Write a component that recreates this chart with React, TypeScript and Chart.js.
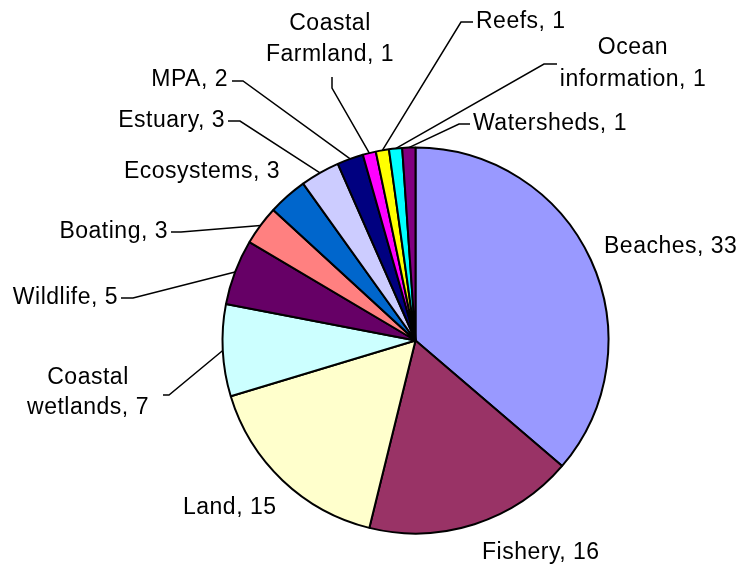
import React, { useEffect, useRef } from "react";
import { Chart, registerables } from "chart.js";

Chart.register(...registerables);

const categories = [
  "Beaches",
  "Fishery",
  "Land",
  "Coastal wetlands",
  "Wildlife",
  "Boating",
  "Ecosystems",
  "Estuary",
  "MPA",
  "Coastal Farmland",
  "Reefs",
  "Ocean information",
  "Watersheds",
];

const counts = [33, 16, 15, 7, 5, 3, 3, 3, 2, 1, 1, 1, 1];

const labelLines = [
  ["Beaches, 33"],
  ["Fishery, 16"],
  ["Land, 15"],
  ["Coastal", "wetlands, 7"],
  ["Wildlife, 5"],
  ["Boating, 3"],
  ["Ecosystems, 3"],
  ["Estuary, 3"],
  ["MPA, 2"],
  ["Coastal", "Farmland, 1"],
  ["Reefs, 1"],
  ["Ocean", "information, 1"],
  ["Watersheds, 1"],
];

const sliceColors = [
  "#9999FF",
  "#993366",
  "#FFFFCC",
  "#CCFFFF",
  "#660066",
  "#FF8080",
  "#0066CC",
  "#CCCCFF",
  "#000080",
  "#FF00FF",
  "#FFFF00",
  "#00FFFF",
  "#800080",
];

// Label layout: offsets from the pie centre (px, for a radius of 193)
type Layout = {
  align: "left" | "right" | "center";
  ax: number;
  ay: number;
  lh?: number;
  leader?: [number, number, number, number];
};

const labelLayout: Layout[] = [
  { align: "left", ax: 188.5, ay: -93.5 },
  { align: "left", ax: 66.5, ay: 212.5 },
  { align: "left", ax: -232.5, ay: 167.5 },
  { align: "center", ax: -327.5, ay: 52.5, lh: 30, leader: [-252.5, 54.5, -246.5, 54.5] },
  { align: "right", ax: -297.5, ay: -42.5, leader: [-294.5, -42.5, -282.5, -42.5] },
  { align: "right", ax: -247.5, ay: -108.5, leader: [-244.5, -108.5, -234.5, -108.5] },
  { align: "right", ax: -135.5, ay: -168.5 },
  { align: "right", ax: -190.5, ay: -219.5, leader: [-187.5, -219.5, -175.5, -219.5] },
  { align: "right", ax: -187.5, ay: -260.5, leader: [-183.5, -259.5, -172.5, -259.5] },
  { align: "center", ax: -85.5, ay: -301, lh: 31, leader: [-83.5, -263.5, -83.5, -252.5] },
  { align: "left", ax: 60.5, ay: -318.5, leader: [57.5, -318.5, 45.5, -318.5] },
  { align: "center", ax: 217.5, ay: -276.5, lh: 32, leader: [141.5, -276.5, 128.5, -276.5] },
  { align: "left", ax: 57.5, ay: -216.5, leader: [54.5, -216.5, 43.5, -216.5] },
];

const labelPlugin = {
  id: "pieLabels",
  afterDraw(chart: any) {
    const ctx = chart.ctx;
    const meta = chart.getDatasetMeta(0);
    ctx.save();
    ctx.font = '23px "Liberation Sans", Arial, sans-serif';
    try {
      ctx.letterSpacing = "0.5px";
    } catch (e) {}
    ctx.fillStyle = "#000";
    ctx.strokeStyle = "#000";
    ctx.lineWidth = 1.5;
    ctx.textBaseline = "middle";
    meta.data.forEach((arc: any, i: number) => {
      const p = arc.getProps(["x", "y", "startAngle", "endAngle", "outerRadius"], true);
      const s = p.outerRadius / 193;
      const cx = p.x;
      const cy = p.y;
      const lay = labelLayout[i];
      const lines = labelLines[i];
      if (lay.leader) {
        const mid = (p.startAngle + p.endAngle) / 2;
        const ex = cx + Math.cos(mid) * p.outerRadius;
        const ey = cy + Math.sin(mid) * p.outerRadius;
        ctx.beginPath();
        ctx.moveTo(cx + lay.leader[0] * s, cy + lay.leader[1] * s);
        ctx.lineTo(cx + lay.leader[2] * s, cy + lay.leader[3] * s);
        ctx.lineTo(ex, ey);
        ctx.stroke();
      }
      const lh = lay.lh ?? 30;
      ctx.textAlign = lay.align;
      const n = lines.length;
      lines.forEach((t, k) => {
        const y = cy + lay.ay * s + (k - (n - 1) / 2) * lh;
        ctx.fillText(t, cx + lay.ax * s, y);
      });
    });
    ctx.restore();
  },
};

export default function App() {
  const ref = useRef<HTMLCanvasElement | null>(null);
  useEffect(() => {
    if (!ref.current) return;
    const chart = new Chart(ref.current, {
      type: "pie",
      data: {
        labels: categories,
        datasets: [
          {
            data: counts,
            backgroundColor: sliceColors,
            borderColor: "#000000",
            borderWidth: 2,
            hoverOffset: 0,
            offset: 0,
          },
        ],
      },
      options: {
        animation: false,
        responsive: true,
        maintainAspectRatio: false,
        layout: { padding: { top: 146.5, bottom: 32.5, left: 221.5, right: 132.5 } },
        plugins: {
          legend: { display: false },
          tooltip: { enabled: false },
        },
        events: [],
      },
      plugins: [labelPlugin],
    });
    return () => chart.destroy();
  }, []);
  return (
    <div style={{ position: "fixed", left: 0, top: 0, width: 742, height: 567, background: "#fff" }}>
      <canvas ref={ref} />
    </div>
  );
}
